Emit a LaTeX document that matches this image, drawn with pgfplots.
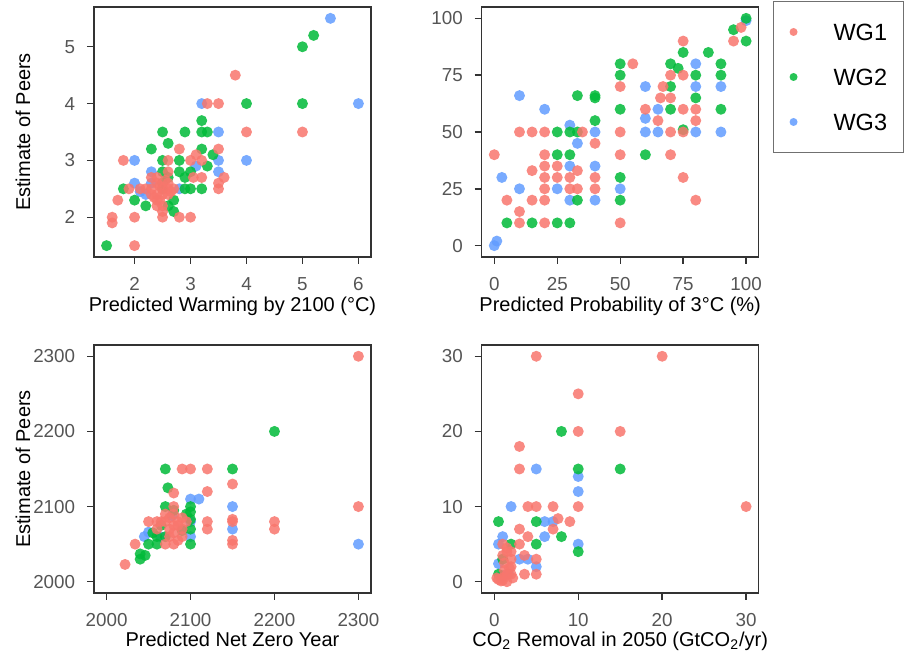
\documentclass[border=0pt]{standalone}
\usepackage{pgfplots}
\pgfplotsset{compat=1.18}
\usepackage{fontspec}
\setmainfont{Liberation Sans}
\definecolor{wgone}{HTML}{F8766D}
\definecolor{wgtwo}{HTML}{00BA38}
\definecolor{wgthree}{HTML}{619CFF}
\definecolor{framecol}{HTML}{333333}
\definecolor{tickcol}{HTML}{555555}
\newcommand\labsize{\fontsize{9.4pt}{11pt}\selectfont}
\newcommand\legsize{\fontsize{11.75pt}{13pt}\selectfont}

\pgfplotsset{
  panel/.style={
    scale only axis, width=138.5pt,
    axis line style={draw=framecol, line width=0.6pt},
    tick align=outside, tick pos=left, major tick length=3.5pt,
    tick style={draw=framecol, line width=0.7pt},
    tick label style={font=\labsize, text=tickcol},
    /pgf/number format/assume math mode=true,
    /pgf/number format/1000 sep={},
    xticklabel style={anchor=base, inner sep=0pt, yshift=-13.5pt},
    yticklabel style={anchor=east, inner sep=0pt, xshift=-5.75pt},
    label style={font=\labsize, text=black},
    every axis x label/.style={at={(axis description cs:0.5,0)}, anchor=base, yshift=-27.5pt},
    every axis y label/.style={at={(axis description cs:-0.231,0.5)}, rotate=90, anchor=base},
  },
  wg1/.style={only marks, mark=*, mark size=2.75pt, color=wgone,
    mark options={draw opacity=0, fill=wgone, fill opacity=0.85}},
  wg2/.style={only marks, mark=*, mark size=2.75pt, color=wgtwo,
    mark options={draw opacity=0, fill=wgtwo, fill opacity=0.85}},
  wg3/.style={only marks, mark=*, mark size=2.75pt, color=wgthree,
    mark options={draw opacity=0, fill=wgthree, fill opacity=0.85}},
}

\begin{document}
\begin{tikzpicture}
\useasboundingbox (0,0) rectangle (454.5pt,326pt);

% warming by 2100
\begin{axis}[panel, at={(47pt,197.5pt)}, anchor=south west, height=125pt,
  xmin=1.275, xmax=6.225, ymin=1.3, ymax=5.7,
  xtick={2,3,4,5,6}, ytick={2,3,4,5},
  xlabel={Predicted Warming by 2100 (°C)}, ylabel={Estimate of Peers}]
\addplot[wg3] coordinates {(5.5,5.5)(3.2,4)(6,4)(3.5,3.5)(2,3)(3.5,3)(4,3)(3.1,2.9)
  (2.3,2.8)(3.5,2.8)(2,2.6)(2.2,2.4)(2.8,2.5)(2.3,2.6)(2.1,2.45)};
\addplot[wg2] coordinates {(5.2,5.2)(5,5)(4,4)(5,4)(3.2,3.5)(3.3,3.5)(2.9,3.5)(2.5,3.5)
  (3.2,3.7)(2.6,3.3)(2.3,3.2)(3.2,3.2)(3.4,3.1)(2.5,3)(2.8,3)(3.3,2.9)(3,2.8)(2.5,2.8)
  (2.8,2.8)(1.8,2.5)(2,2.3)(2.2,2.2)(2.6,2.2)(2.7,2.3)(2.9,2.5)(3,2.5)(3.2,2.5)(2.5,2.5)
  (1.5,1.5)(2.6,2.7)(2.9,2.7)(2.7,2.1)(2.5,2.6)};
\addplot[wg1] coordinates {(3.8,4.5)(3.3,4)(3.5,4)(4,3.5)(5,3.5)(2.8,3.2)(3.5,3.2)(1.8,3)
  (2.6,3)(3,3)(3.1,3.1)(3.2,3)(3.05,2.7)(3.2,2.7)(3.5,2.6)(3.6,2.7)(3.5,2.5)(2.3,2.7)
  (2.4,2.7)(2.4,2.6)(2.5,2.5)(2.3,2.5)(2.6,2.5)(2.7,2.5)(2.4,2.4)(2.5,2.4)(2.6,2.6)
  (2.2,2.5)(2.1,2.5)(1.9,2.5)(2.4,2.3)(2.5,2.2)(2.4,2.2)(1.7,2.3)(2,2)(1.6,2)(1.6,1.9)
  (2,1.5)(2.5,2)(2.8,2)(3,2)(2.6,2.8)(2.5,2.1)(2.3,2.4)(2.6,2.4)(2.45,2.55)(2.35,2.35)
  (2.55,2.65)(2.65,2.45)(2.45,2.3)};
\end{axis}

% probability of 3 degrees
\begin{axis}[panel, at={(240.85pt,197.5pt)}, anchor=south west, height=125pt,
  xmin=-5, xmax=105, ymin=-5, ymax=105,
  xtick={0,25,50,75,100}, ytick={0,25,50,75,100},
  xlabel={Predicted Probability of 3°C (\%)},
  reverse legend, legend cell align=left,
  legend image code/.code={\draw[#1, mark size=2pt] plot coordinates {(0pt,0pt)};},
  legend style={at={(1.0518,1.024)}, anchor=north west, draw=framecol!70,
    line width=0.5pt, inner xsep=8pt, inner ysep=11pt, row sep=14pt,
    column sep=18pt, font=\legsize,
    nodes={inner sep=0pt, text height=8.5pt, text depth=0pt}}]
\addplot[wg3] coordinates {(100,99)(80,80)(60,70)(80,70)(90,70)(65,60)(60,56)(60,50)
  (65,50)(80,50)(90,50)(50,25)(40,50)(40,20)(40,35)(30,53)(33,45)(30,35)(25,25)(30,20)
  (10,25)(3,30)(10,66)(20,60)(1,2)(0,0)};
\addlegendentry{WG3}
\addplot[wg2] coordinates {(100,100)(95,95)(100,90)(85,85)(75,85)(70,80)(73,78)(50,80)
  (90,80)(90,75)(80,75)(50,75)(70,70)(80,65)(70,60)(90,60)(50,60)(75,51)(60,40)(50,30)
  (50,20)(33,66)(40,66)(40,65)(40,55)(25,50)(30,50)(33,50)(25,40)(30,40)(33,20)(5,10)
  (15,10)(25,10)(30,10)};
\addlegendentry{WG2}
\addplot[wg1] coordinates {(98,96)(95,90)(75,90)(55,80)(75,75)(70,75)(50,70)(67,70)
  (66,65)(70,65)(80,60)(75,60)(60,60)(65,55)(80,55)(70,50)(75,50)(50,50)(70,40)(75,30)
  (80,20)(50,40)(50,10)(40,45)(40,25)(40,30)(10,50)(15,50)(20,50)(35,50)(0,40)(20,40)
  (15,33)(20,35)(20,30)(25,35)(25,30)(30,30)(33,33)(20,25)(30,25)(33,25)(15,20)(20,20)
  (5,20)(10,15)(10,10)(20,10)};
\addlegendentry{WG1}
\end{axis}

% net zero year
\begin{axis}[panel, at={(47pt,29.5pt)}, anchor=south west, height=124pt,
  xmin=1985, xmax=2315, ymin=1985, ymax=2315,
  xtick={2000,2100,2200,2300}, ytick={2000,2100,2200,2300},
  xlabel={Predicted Net Zero Year}, ylabel={Estimate of Peers},
  every axis x label/.append style={yshift=0.5pt}]
\addplot[wg3] coordinates {(2300,2050)(2100,2110)(2110,2110)(2150,2100)(2150,2070)
  (2050,2066)(2078,2088)(2064,2060)(2100,2060)(2100,2080)(2045,2060)};
\addplot[wg2] coordinates {(2200,2200)(2070,2150)(2150,2150)(2073,2125)(2070,2100)
  (2100,2100)(2100,2093)(2100,2083)(2100,2070)(2100,2050)(2060,2060)(2060,2050)
  (2040,2037)(2040,2030)(2046,2035)(2070,2060)(2090,2068)(2050,2050)(2055,2065)(2095,2090)
  (2065,2075)(2080,2095)};
\addplot[wg1] coordinates {(2300,2300)(2300,2100)(2200,2080)(2200,2070)(2090,2150)
  (2100,2150)(2120,2150)(2150,2130)(2120,2120)(2080,2118)(2150,2083)(2150,2080)
  (2150,2055)(2150,2050)(2120,2080)(2120,2070)(2080,2100)(2050,2080)(2060,2080)
  (2034,2050)(2022,2023)(2070,2050)(2080,2050)(2075,2070)(2085,2080)(2090,2070)
  (2070,2090)(2080,2090)(2075,2060)(2090,2060)(2085,2075)(2065,2080)(2080,2065)
  (2095,2080)(2060,2070)(2075,2085)(2085,2055)(2070,2080)(2090,2085)(2080,2075)};
\end{axis}

% CO2 removal
\begin{axis}[panel, at={(240.85pt,29.5pt)}, anchor=south west, height=124pt,
  xmin=-1.5, xmax=31.5, ymin=-1.5, ymax=31.5,
  xtick={0,10,20,30}, ytick={0,10,20,30},
  xlabel={CO\textsubscript{2} Removal in 2050 (GtCO\textsubscript{2}/yr)},
  every axis x label/.append style={yshift=0.5pt}]
\addplot[wg3] coordinates {(5,15)(10,14)(10,12)(2,10)(6,8)(7,8)(6,6)(10,5)(1,6)(0.5,5)
  (3,3)(4,3)(5,2)(0.5,2.4)(1.7,1)(1,0.8)};
\addplot[wg2] coordinates {(8,20)(10,15)(15,15)(0.5,8)(5,8)(8,6)(10,4)(2,5)(5,5)(1,3)(0.5,1)};
\addplot[wg1] coordinates {(5,30)(20,30)(10,25)(10,20)(15,20)(3,18)(3,15)(10,10)(30,10)
  (4,10)(5,10)(7,10)(7.6,8.4)(7,7)(9,8)(3,7)(4,6)(1,5)(1.5,4.5)(3,5)(3.6,3.5)(5,3)
  (3.6,1)(5,1)(0.5,0.3)(1,0.2)(1,0.5)(1.5,1)(2,2)(2,1)(1.5,4)(2,4)(1,3.5)(1.2,2.5)
  (2,3)(0.3,0.5)(1.5,0)(1.8,1.8)(1.2,1.5)(0.8,0.1)(2.2,0.5)};
\end{axis}
\end{tikzpicture}
\end{document}
